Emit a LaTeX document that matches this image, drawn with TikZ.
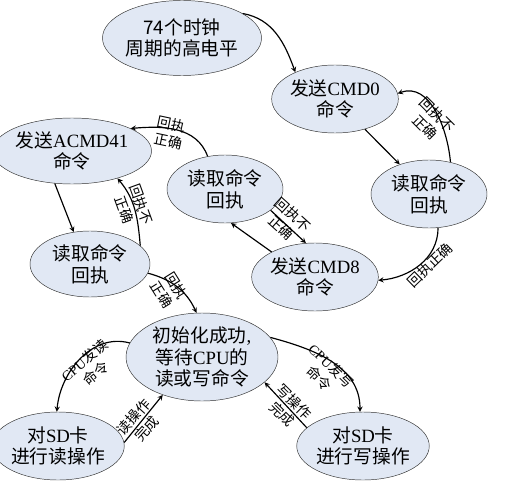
\documentclass[tikz,border=0pt]{standalone}
\usepackage{fontspec}
\setmainfont{Liberation Serif}
\newfontfamily\cjk{Noto Sans CJK SC}
\usetikzlibrary{shapes.geometric}
\definecolor{statefill}{RGB}{225,232,244}
\tikzset{
  state/.style={ellipse,draw=black!80,fill=statefill,inner sep=0pt,
    minimum width=3.48cm,minimum height=2.04cm,align=center,
    font=\fontsize{16}{18.5}\selectfont},
  lbl/.style={font=\fontsize{12}{15}\selectfont\cjk,align=center,inner sep=0pt},
}
\begin{document}
\begin{tikzpicture}[x=0.03cm,y=0.03cm,>=stealth]
\useasboundingbox (0,0) rectangle (511,495);
% states
\node[state,minimum width=3.54cm,minimum height=2.25cm](clk) at (182,457){\cjk 74个时钟\\\cjk 周期的高电平};
\node[state](cmd0) at (335,396){{\cjk 发送}CMD0\\\cjk 命令};
\node[state](rd0) at (429,301){\cjk 读取命令\\\cjk 回执};
\node[state](cmd8) at (315,218){{\cjk 发送}CMD8\\\cjk 命令};
\node[state](rd8) at (225,306){\cjk 读取命令\\\cjk 回执};
\node[state,minimum width=3.54cm,minimum height=1.98cm](acmd) at (72,344){{\cjk 发送}ACMD41\\\cjk 命令};
\node[state,minimum width=3.6cm,minimum height=1.98cm](rd41) at (90,231){\cjk 读取命令\\\cjk 回执};
\node[state,minimum width=4.56cm,minimum height=2.64cm](idle) at (202,138){{\cjk 初始化成功}, \\{\cjk 等待}CPU{\cjk 的}\\\cjk 读或写命令};
\node[state](rdop) at (58,49){{\cjk 对}SD{\cjk 卡}\\\cjk 进行读操作};
\node[state,minimum width=3.54cm](wrop) at (363,49){{\cjk 对}SD{\cjk 卡}\\\cjk 进行写操作};

% transitions
\begin{scope}[line width=1pt]
\draw[->](clk.22) to[out=-10,in=110] (cmd0.146);
\draw[->](cmd0)--(rd0);
\draw[->](rd0.56) to[out=95,in=20] (cmd0.5);
\draw[->](rd0.-75) to[out=-90,in=5] (cmd8.-3);
\draw[->](cmd8.150)--(rd8.-80);
\draw[->](rd8.-25)--(cmd8.105);
\draw[->](rd8.118) to[out=110,in=5] (acmd.21);
\draw[->](acmd.-118)--(rd41.117);
\draw[->](rd41.20) to[out=95,in=-50] (acmd.-31);
\draw[->](rd41.-9) to[out=-15,in=115] (idle.97);
\draw[->](idle.169) to[out=165,in=85] (rdop.92);
\draw[->](rdop.3)--(idle.-136);
\draw[->](idle.16) to[out=-15,in=90] (wrop.95);
\draw[->](wrop.162)--(idle.-22);
\end{scope}

% labels
\node[lbl,rotate=-45](l1) at (431,374){回执不\\正确};
\node[lbl,rotate=44](l2) at (430,230){回执正确};
\node[lbl,rotate=-42](l3) at (287,274){回执不\\正确};
\node[lbl,rotate=-12](l4) at (170,362){回执\\正确};
\node[lbl,rotate=-70](l5) at (133,288){回执不\\正确};
\node[lbl,rotate=-58](l6) at (169,205){回执\\正确};
\node[lbl,rotate=40](l7) at (90,128){{\rmfamily CPU}发读\\命令};
\node[lbl,rotate=48](l8) at (140,72){读操作\\完成};
\node[lbl,rotate=-44](l9) at (325,123){{\rmfamily CPU}发写\\命令};
\node[lbl,rotate=-45](l10) at (288,87){写操作\\完成};
\end{tikzpicture}
\end{document}
